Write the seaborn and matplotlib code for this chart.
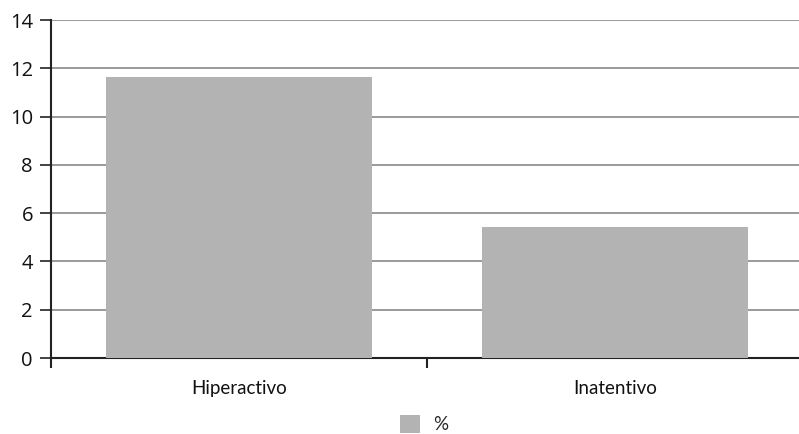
import matplotlib
matplotlib.use("Agg")
import matplotlib.pyplot as plt
import seaborn as sns
import pandas as pd
from matplotlib.patches import Patch

# Data
categories = ["Hiperactivo", "Inatentivo"]
values = [11.65, 5.44]
series_name = "%"
y_ticks = [0, 2, 4, 6, 8, 10, 12, 14]

df = pd.DataFrame({"categoria": categories, "valor": values})

sns.set_theme(style="white")
plt.rcParams["font.family"] = ["Open Sans", "DejaVu Sans"]

fig = plt.figure(figsize=(7.99, 4.34), dpi=100)
ax = fig.add_axes([51 / 799, (434 - 358) / 434, 752 / 799, 338 / 434])

bar_color = "#b3b3b3"
sns.barplot(data=df, x="categoria", y="valor", color=bar_color,
            width=0.705, saturation=1, edgecolor="none", linewidth=0,
            ax=ax, zorder=3)

ax.set_xlim(-0.5, 1.5)
ax.set_ylim(0, 14)
ax.set_yticks(y_ticks)
ax.set_yticklabels([str(t) for t in y_ticks], fontsize=14.5, color="#111111")
ax.yaxis.grid(True, color="#9a9a9a", linewidth=1.4, zorder=0)
ax.set_axisbelow(True)

ax.set_xlabel("")
ax.set_ylabel("")
ax.set_xticks([0, 1])
ax.set_xticklabels(categories, fontsize=13.5, color="#111111",
                   fontfamily=["Lato", "DejaVu Sans"])
ax.set_xticks([-0.5, 0.5, 1.5], minor=True)
ax.tick_params(axis="x", which="major", length=0, pad=16)
ax.tick_params(axis="x", which="minor", length=7, width=1.5, color="#222222",
               direction="out", bottom=True)
ax.tick_params(axis="y", length=8, width=1.2, color="#222222", direction="out",
               left=True, pad=5)

for side in ["top", "right"]:
    ax.spines[side].set_visible(False)
for side in ["left", "bottom"]:
    ax.spines[side].set_color("#222222")
    ax.spines[side].set_linewidth(1.5)

handle = Patch(facecolor=bar_color, edgecolor="none", label=series_name)
fig.legend(handles=[handle], loc="center", bbox_to_anchor=(424 / 799, 1 - 424 / 434),
           frameon=False, fontsize=13.5, handlelength=1.1, handleheight=1.1,
           handletextpad=0.7, borderpad=0,
           prop={"family": ["Lato", "DejaVu Sans"], "size": 13.5})

fig.savefig("out.png", dpi=100)
